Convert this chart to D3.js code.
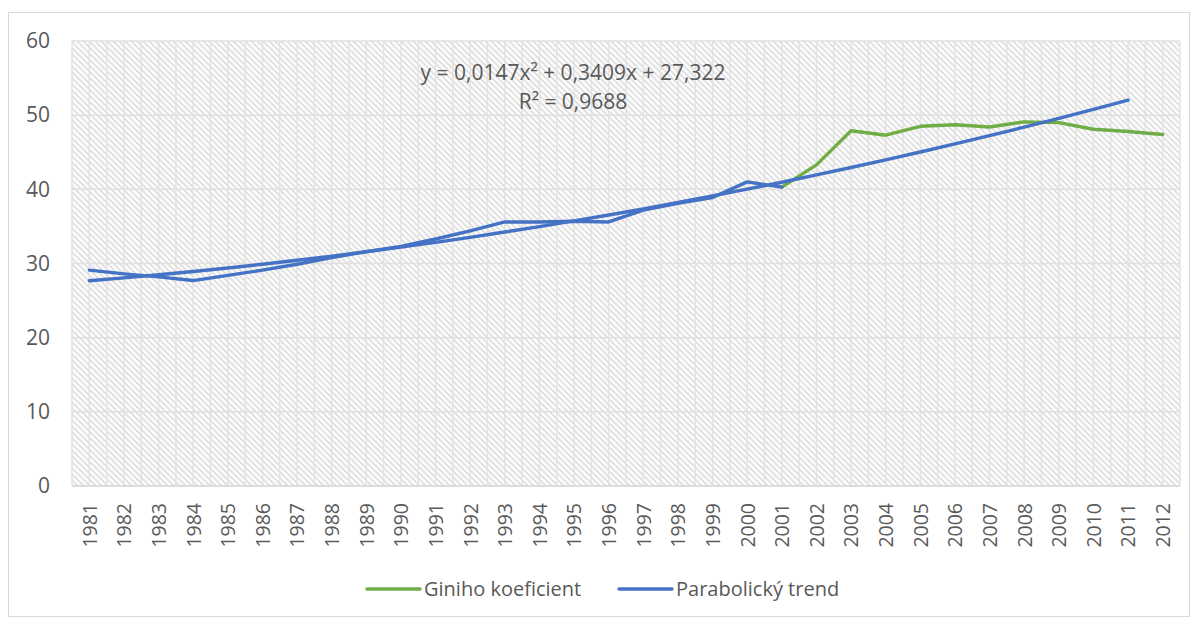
<!DOCTYPE html>
<html>
<head>
<meta charset="utf-8">
<script src="https://cdn.jsdelivr.net/npm/d3@7"></script>
<style>
  html, body { margin: 0; padding: 0; background: #fff; }
  svg { display: block; }
  text { font-family: "Open Sans", "Noto Sans", sans-serif; fill: #595959; }
</style>
</head>
<body>
<svg id="chart" width="1197" height="619"></svg>
<script>
const years = ["1981","1982","1983","1984","1985","1986","1987","1988","1989","1990",
  "1991","1992","1993","1994","1995","1996","1997","1998","1999","2000",
  "2001","2002","2003","2004","2005","2006","2007","2008","2009","2010","2011","2012"];
const gini = [29.1, 28.6, 28.2, 27.7, 28.4, 29.1, 29.9, 30.8, 31.6, 32.3,
  33.3, 34.4, 35.6, 35.6, 35.7, 35.6, 37.2, 38.1, 38.9, 41.0,
  40.3, 43.3, 47.9, 47.3, 48.5, 48.7, 48.4, 49.1, 49.0, 48.1, 47.8, 47.4];
const trend = [27.68, 28.06, 28.48, 28.92, 29.39, 29.90, 30.43, 30.99, 31.58, 32.20,
  32.85, 33.53, 34.24, 34.98, 35.74, 36.54, 37.37, 38.22, 39.11, 40.02,
  40.96, 41.94, 42.94, 43.97, 45.03, 46.12, 47.24, 48.39, 49.57, 50.78, 52.02];
const yTicks = [0, 10, 20, 30, 40, 50, 60];
const seriesNames = ["Giniho koeficient", "Parabolický trend"];
const equationLines = ["y = 0,0147x² + 0,3409x + 27,322", "R² = 0,9688"];
const splitYear = "2001";

const svg = d3.select("#chart");
const L = 72, R = 1180, T = 41, B = 486;
const blue = "#4472C4", green = "#70AD47";

// outer border
svg.append("rect").attr("x", 8.5).attr("y", 12.5).attr("width", 1181).attr("height", 604)
  .attr("fill", "#fff").attr("stroke", "#d9d9d9").attr("stroke-width", 1);

const x = d3.scalePoint().domain(years).range([L, R]).padding(0.5);
const y = d3.scaleLinear().domain([0, 60]).range([B, T]);

// hatch pattern
const defs = svg.append("defs");
const pat = defs.append("pattern").attr("id", "hatch").attr("patternUnits", "userSpaceOnUse")
  .attr("width", 6).attr("height", 6);
pat.append("rect").attr("width", 6).attr("height", 6).attr("fill", "#fff");
pat.append("path").attr("d", "M-1,-1 L7,7 M-4,2 L2,8 M4,-2 L8,2")
  .attr("stroke", "#e2e2e2").attr("stroke-width", 2);

svg.append("rect").attr("x", L).attr("y", T).attr("width", R - L).attr("height", B - T)
  .attr("fill", "url(#hatch)");

// vertical grid lines: category boundaries and centers
const step = x.step();
const vLines = d3.range(0, years.length * 2 + 1).map(i => L + i * step / 2);
svg.append("g").selectAll("line").data(vLines).join("line")
  .attr("x1", d => d).attr("x2", d => d).attr("y1", T).attr("y2", B)
  .attr("stroke", "#e3e3e3").attr("stroke-width", 1.5);

// horizontal gridlines
svg.append("g").selectAll("line").data(yTicks).join("line")
  .attr("x1", L).attr("x2", R).attr("y1", d => y(d)).attr("y2", d => y(d))
  .attr("stroke", "#e0e0e0").attr("stroke-width", 1.5);

// x axis line
svg.append("line").attr("x1", L).attr("x2", R).attr("y1", B).attr("y2", B)
  .attr("stroke", "#d9d9d9").attr("stroke-width", 1.5);

// y axis labels
const yAxis = d3.axisLeft(y).tickValues(yTicks).tickSize(0).tickPadding(0);
const gy = svg.append("g").attr("transform", `translate(${50},0)`).call(yAxis);
gy.select(".domain").remove();
gy.selectAll("text").style("font-size", "21px").attr("fill", "#595959")
  .style("font-family", "'Open Sans', sans-serif");

// x axis labels
const xAxis = d3.axisBottom(x).tickSize(0).tickPadding(0);
const gx = svg.append("g").attr("transform", `translate(0,${503})`).call(xAxis);
gx.select(".domain").remove();
gx.selectAll("text").style("font-size", "19.5px").attr("fill", "#595959")
  .style("font-family", "'Open Sans', sans-serif")
  .attr("text-anchor", "end").attr("dy", "0.35em").attr("y", 0).attr("x", 0)
  .attr("transform", "rotate(-90)");

// lines
const line = d3.line().x(d => x(d.year)).y(d => y(d.v));
const giniPts = years.map((yr, i) => ({ year: yr, v: gini[i] }));
const si = years.indexOf(splitYear);
const trendPts = trend.map((v, i) => ({ year: years[i], v }));

svg.append("path").datum(giniPts.slice(si)).attr("d", line)
  .attr("fill", "none").attr("stroke", green).attr("stroke-width", 3.4)
  .attr("stroke-linejoin", "round").attr("stroke-linecap", "round");
svg.append("path").datum(giniPts.slice(0, si + 1)).attr("d", line)
  .attr("fill", "none").attr("stroke", blue).attr("stroke-width", 3.4)
  .attr("stroke-linejoin", "round").attr("stroke-linecap", "round");
svg.append("path").datum(trendPts).attr("d", line.curve(d3.curveMonotoneX))
  .attr("fill", "none").attr("stroke", blue).attr("stroke-width", 3.4)
  .attr("stroke-linejoin", "round").attr("stroke-linecap", "round");

// equation
svg.append("text").attr("x", 573).attr("y", 80).attr("text-anchor", "middle")
  .style("font-size", "21px").text(equationLines[0]);
svg.append("text").attr("x", 573).attr("y", 109).attr("text-anchor", "middle")
  .style("font-size", "21px").text(equationLines[1]);

// legend
const legend = [
  { name: seriesNames[0], color: green, x0: 367 },
  { name: seriesNames[1], color: blue, x0: 619 }
];
const lg = svg.append("g").selectAll("g").data(legend).join("g");
lg.append("line").attr("x1", d => d.x0).attr("x2", d => d.x0 + 53).attr("y1", 589).attr("y2", 589)
  .attr("stroke", d => d.color).attr("stroke-width", 3.4).attr("stroke-linecap", "round");
lg.append("text").attr("x", d => d.x0 + 57).attr("y", 596)
  .style("font-size", "20px").text(d => d.name);
</script>
</body>
</html>
